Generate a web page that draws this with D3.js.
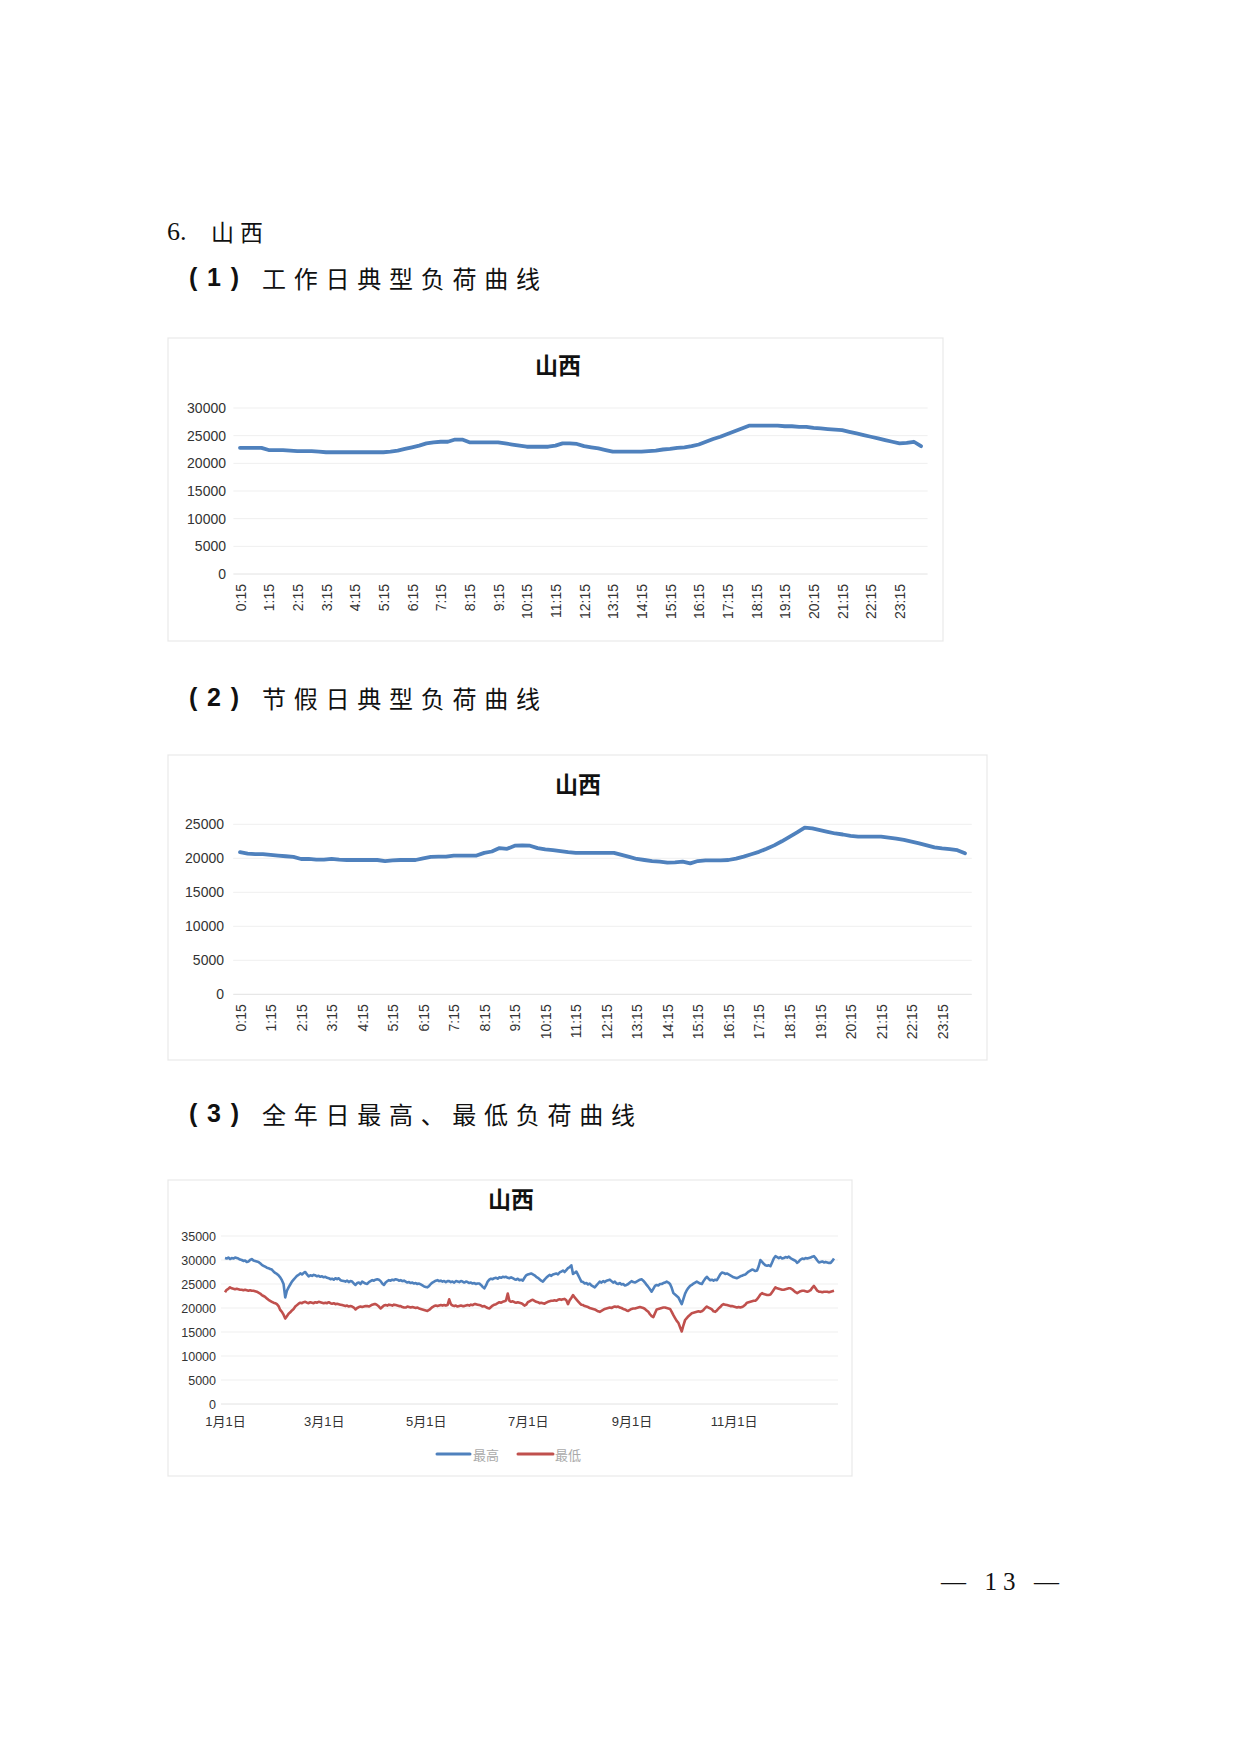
<!DOCTYPE html>
<html><head><meta charset="utf-8">
<script src="https://cdn.jsdelivr.net/npm/d3@7/dist/d3.min.js"></script>
<style>body{margin:0;background:#fff}</style>
</head><body><svg id="page" width="1240" height="1754"></svg>
<script>
// ---------- DATA ----------
// 96 quarter-hour categories: 0:15 ... 24:00
const timeLabels = [];
for (let h = 0; h < 24; h++) for (const m of [15, 30, 45, 60]) timeLabels.push(m === 60 ? (h + 1) + ":00" : h + ":" + m);
const shownTimeLabels = timeLabels.filter((d, i) => i % 4 === 0);

// (1) workday typical load (MW)
const workdayLoad = [
  22800,22800,22800,22800, 22400,22400,22400,22300, 22200,22200,22200,22100, 22000,22000,22000,22000,
  22000,22000,22000,22000, 22000,22100,22300,22600, 22900,23200,23600,23800, 23900,23900,24300,24300,
  23800,23800,23800,23800, 23800,23600,23400,23200, 23000,23000,23000,23000, 23200,23600,23600,23500,
  23100,22900,22700,22400, 22100,22100,22100,22100, 22100,22200,22300,22500, 22600,22800,22900,23100,
  23400,23900,24400,24800, 25300,25800,26300,26800, 26800,26800,26800,26800, 26700,26700,26600,26600,
  26400,26300,26200,26100, 26000,25700,25400,25100, 24800,24500,24200,23900, 23600,23700,23900,23100
];
// (2) holiday typical load (MW)
const holidayLoad = [
  20900,20700,20600,20600, 20500,20400,20300,20200, 19900,19900,19800,19800, 19900,19800,19750,19750,
  19750,19750,19750,19600, 19700,19750,19750,19750, 20000,20200,20250,20250, 20400,20400,20400,20400,
  20800,21000,21500,21400, 21850,21900,21850,21500, 21300,21200,21050,20900, 20800,20800,20800,20800,
  20800,20800,20500,20200, 19900,19750,19600,19500, 19350,19400,19500,19250, 19600,19700,19700,19700,
  19750,19950,20250,20600, 20950,21400,21900,22500, 23150,23800,24500,24400, 24150,23900,23650,23500,
  23300,23200,23200,23200, 23200,23050,22900,22700, 22450,22200,21900,21600, 21450,21350,21200,20750
];
const yTicks1 = [0, 5000, 10000, 15000, 20000, 25000, 30000];
const yTicks2 = [0, 5000, 10000, 15000, 20000, 25000];
const yTicks3 = [0, 5000, 10000, 15000, 20000, 25000, 30000, 35000];

// (3) daily max / min load over the year, one array per month
const dailyMax = [
 [30400,30300,30500,30200,30400,30300,30500,30400,30300,30100,30000,29800,29900,29600,29700,30000,30200,29900,29800,29700,29600,29300,29000,28800,28600,28400,28300,28100,28000,27600,27300],
 [27100,26800,26400,25800,25000,22200,23600,24300,24900,25500,25900,26300,26700,26900,27200,27000,27300,27500,27000,26600,26800,26700,26900,26800,26600,26700,26500,26600],
 [26400,26500,26300,26200,26000,26100,25900,26200,26000,26200,25800,25700,25600,25500,25700,25400,25600,25500,25100,24800,25200,25300,25000,25500,25300,25100,25000,25400,25600,25800,25700],
 [25900,26000,25900,25600,25100,24800,25300,25600,25800,25700,25900,25800,26000,25900,25700,25800,25600,25700,25500,25300,25400,25200,25300,25100,25200,25000,25100,24900,24700,24500],
 [24400,24300,24600,25000,25300,25500,25700,25800,25600,25700,25500,25600,25400,25600,25600,25400,25500,25300,25600,25500,25400,25600,25500,25300,25500,25400,25200,25300,25100,25200,25000],
 [25100,25100,24800,24400,24100,24700,25500,25900,26100,26000,26200,26300,26100,26400,26300,26500,26400,26500,26300,26200,26400,26200,26000,25900,26100,25800,25900,25700,26300,26800],
 [27000,27100,27200,27000,26800,26500,26300,26000,25700,25500,25900,26300,26600,26900,26700,27000,27100,27200,27000,27400,27600,27800,27500,27900,28300,28500,28900,27100,27300,27600,26900],
 [26200,25500,25400,25100,25200,24900,25100,24700,24500,24300,24700,25100,25500,25300,25600,25400,25700,25800,25900,25600,25300,25500,25100,25000,25200,24900,25000,24700,24800,25000,25300],
 [25600,25400,25300,25500,25700,25900,26000,25700,25300,24800,24400,23900,23400,24000,24600,24800,24700,25000,25000,25200,25300,25500,25300,25000,24200,23100,22800,22500,22200,21500],
 [20800,21900,23000,23700,24200,24600,24800,25100,25300,25500,25300,25100,25000,25600,26100,26500,26100,25800,25900,25700,25900,25800,26400,27000,27400,27300,27100,27200,27000,26800,26600],
 [26400,26300,26200,26400,26600,26700,26900,27000,27300,27600,27800,28000,27900,27700,27800,28700,30000,29600,29200,28900,28800,28900,28700,29500,30300,30800,30600,30400,30600,30300],
 [30400,30600,30500,30700,30400,30200,30000,29800,29400,29700,30100,30300,30200,30400,30300,30400,30500,30700,30800,30400,29900,29500,29600,29700,29500,29600,29500,29400,29400,29800,30300]
];
const dailyMin = [
 [23300,23800,24000,24300,24100,24000,23900,24000,23900,23800,23800,23700,23800,23700,23600,23700,23600,23600,23500,23400,23200,23000,22700,22500,22300,22000,21700,21500,21300,21100,21000],
 [20800,20400,19600,19200,18600,17800,18300,18800,19100,19500,19800,20300,20600,20900,21100,21000,21200,21300,21100,21000,21200,21100,21000,21200,21100,21300,21200,21100],
 [21000,21100,21000,21200,21000,20900,21000,20800,20900,20800,20700,20600,20500,20400,20500,20300,20400,20300,20100,19700,20000,20200,20300,20200,20300,20400,20400,20300,20500,20700,20800],
 [20800,20600,20300,19900,20200,20500,20600,20500,20700,20600,20500,20700,20600,20500,20400,20400,20200,20100,20100,20300,20200,20100,20200,20100,20000,20100,19900,19800,19700,19600],
 [19500,19400,19600,19900,20200,20400,20500,20400,20500,20600,20500,20600,20500,20600,21800,20800,20500,20400,20500,20300,20400,20500,20400,20400,20500,20600,20500,20700,20600,20800,20800],
 [20700,20600,20500,20300,20400,20200,20000,19900,20200,20500,20700,20800,21000,21200,21100,21300,21400,21600,23000,21500,21300,21400,21200,21100,21200,21100,21000,20800,20500,20700],
 [21200,21400,21600,21700,21500,21300,21200,21000,21100,21000,20900,21100,21300,21400,21500,21500,21600,21500,21700,21800,21700,21800,21900,21600,20800,21600,22100,22700,22200,21800,21400],
 [21000,20700,20600,20400,20300,20200,20000,19900,19800,19700,19500,19300,19200,19400,19600,19800,19900,20000,20100,20000,20200,20300,20200,20300,20100,20000,19800,19700,19500,19400,19600],
 [19800,19900,19900,20000,20100,20200,20100,20000,19800,19500,19200,18700,18300,18100,18900,19700,19800,19900,20000,20100,20100,20000,19900,19800,19200,18500,17900,17300,16900,16000],
 [15100,16400,17500,17900,18300,18600,18900,19000,19100,19200,19300,19200,19300,19600,20000,20300,20100,19900,19700,19300,19200,19500,19900,20200,20600,20800,20700,20600,20500,20400,20400],
 [20300,20200,20100,20200,20100,20200,20400,20700,21100,21200,21300,21400,21500,21500,21800,22300,22800,23100,22900,22800,22700,22700,22800,23300,23800,24300,24100,24000,23900,23800],
 [23800,23900,24000,24100,24100,23900,23600,23300,23100,23300,23500,23600,23600,23500,23400,23500,23700,24200,24600,24100,23600,23400,23400,23300,23400,23400,23400,23300,23400,23500,23600]
];
const yearTickMonths = [0, 2, 4, 6, 8, 10];   // 1月1日, 3月1日, ...
const legendNames = ["最高", "最低"];
const chartTitle = "山西";

// ---------- DRAW ----------
const BLUE = "#4F81BD", RED = "#C0504D";
const svg = d3.select("#page");
svg.append("rect").attr("width", 1240).attr("height", 1754).attr("fill", "#fff");

const CJK = "'Noto Sans CJK SC','Noto Sans CJK JP',sans-serif";
const SANS = "'Liberation Sans',Arial,'Noto Sans CJK SC',sans-serif";
const SERIF = "'Liberation Serif','Times New Roman',serif";

// headings
function heading(num, text, y, x2) {
  const g = svg.append("g");
  g.append("text").attr("x", 189).attr("y", y).attr("dominant-baseline", "central")
    .attr("font-family", SANS).attr("font-weight", 700).attr("font-size", 25).attr("fill", "#111")
    .attr("textLength", 50).attr("lengthAdjust", "spacing").text("( " + num + " )");
  g.append("text").attr("x", 262).attr("y", y).attr("dominant-baseline", "central")
    .attr("font-family", CJK).attr("font-size", 24).attr("fill", "#111")
    .attr("textLength", x2 - 262).attr("lengthAdjust", "spacing").text(text);
}
svg.append("text").attr("x", 167).attr("y", 231).attr("dominant-baseline", "central")
  .attr("font-family", SERIF).attr("font-size", 26).attr("fill", "#111").text("6.");
svg.append("text").attr("x", 211).attr("y", 231).attr("dominant-baseline", "central")
  .attr("font-family", CJK).attr("font-size", 23).attr("fill", "#111")
  .attr("textLength", 52).attr("lengthAdjust", "spacing").text("山西");
heading(1, "工作日典型负荷曲线", 277, 540);
heading(2, "节假日典型负荷曲线", 697, 540);
heading(3, "全年日最高、最低负荷曲线", 1113, 635);

// page number
svg.append("text").attr("x", 941).attr("y", 1581).attr("dominant-baseline", "central")
  .attr("font-family", SERIF).attr("font-size", 25).attr("fill", "#111")
  .attr("textLength", 118).attr("lengthAdjust", "spacing").text("— 13 —");

function frame(x0, y0, x1, y1, titleX, titleY) {
  svg.append("rect").attr("x", x0).attr("y", y0).attr("width", x1 - x0).attr("height", y1 - y0)
    .attr("fill", "#fff").attr("stroke", "#e9e9e9").attr("stroke-width", 1.2);
  svg.append("text").attr("x", titleX).attr("y", titleY).attr("text-anchor", "middle")
    .attr("dominant-baseline", "central").attr("font-family", CJK).attr("font-weight", 700)
    .attr("font-size", 23).attr("fill", "#111").text(chartTitle);
}

function yAxis(y, ticks, labelX, gx0, gx1, fs) {
  svg.append("g").selectAll("line").data(ticks).join("line")
    .attr("x1", gx0).attr("x2", gx1).attr("y1", d => y(d)).attr("y2", d => y(d))
    .attr("stroke", d => d === 0 ? "#e2e2e2" : "#efefef").attr("stroke-width", 1);
  const ax = svg.append("g").attr("transform", `translate(${labelX},0)`)
    .call(d3.axisLeft(y).tickValues(ticks).tickSize(0).tickPadding(0).tickFormat(d3.format("d")));
  ax.select(".domain").remove();
  ax.selectAll("text").attr("font-family", SANS).attr("font-size", fs).attr("fill", "#333");
}

function dayChart(data, yMax, ticks, box, rangeX, rangeY, labelX, titleX, titleY) {
  frame(box[0], box[1], box[2], box[3], titleX, titleY);
  const x = d3.scalePoint().domain(timeLabels).range(rangeX).padding(0.5);
  const y = d3.scaleLinear().domain([0, yMax]).range(rangeY);
  yAxis(y, ticks, labelX, rangeX[0] - 3, rangeX[1] + 3, 14);
  const ax = svg.append("g").attr("transform", `translate(0,${rangeY[0]})`)
    .call(d3.axisBottom(x).tickValues(shownTimeLabels).tickSize(0));
  ax.select(".domain").remove();
  ax.selectAll("text").attr("font-family", SANS).attr("font-size", 14).attr("fill", "#333")
    .attr("transform", "rotate(-90)").attr("text-anchor", "end")
    .attr("x", -10).attr("y", 0).attr("dy", "0.36em");
  svg.append("path").datum(data)
    .attr("d", d3.line().x((d, i) => x(timeLabels[i])).y(d => y(d)))
    .attr("fill", "none").attr("stroke", BLUE).attr("stroke-width", 3.8)
    .attr("stroke-linejoin", "round").attr("stroke-linecap", "round");
}

dayChart(workdayLoad, 30000, yTicks1, [168, 338, 943, 641], [236.4, 924.6], [574, 408], 226, 558, 364);
dayChart(holidayLoad, 25000, yTicks2, [168, 755, 987, 1060], [236.2, 968.8], [994.3, 824.3], 224, 578, 783);

// chart 3
(function () {
  frame(168, 1180, 852, 1476, 511, 1198);
  const maxSeries = [], minSeries = [];
  dailyMax.forEach((arr, m) => arr.forEach((v, i) => maxSeries.push({ date: new Date(2019, m, i + 1), v })));
  dailyMin.forEach((arr, m) => arr.forEach((v, i) => minSeries.push({ date: new Date(2019, m, i + 1), v })));
  const x = d3.scaleTime().domain([new Date(2019, 0, 1), new Date(2019, 11, 31)]).range([225, 834]);
  const y = d3.scaleLinear().domain([0, 35000]).range([1404, 1236]);
  yAxis(y, yTicks3, 216, 221, 838, 12.5);
  const tickDates = yearTickMonths.map(m => new Date(2019, m, 1));
  const ax = svg.append("g").attr("transform", "translate(0,1404)")
    .call(d3.axisBottom(x).tickValues(tickDates).tickSize(0).tickFormat(d => (d.getMonth() + 1) + "月1日"));
  ax.select(".domain").remove();
  ax.selectAll("text").attr("font-family", SANS).attr("font-size", 13).attr("fill", "#333")
    .attr("y", 17).attr("dy", "0.36em");
  const line = d3.line().x(d => x(d.date)).y(d => y(d.v));
  svg.append("path").datum(maxSeries).attr("d", line).attr("fill", "none")
    .attr("stroke", BLUE).attr("stroke-width", 2.6).attr("stroke-linejoin", "round");
  svg.append("path").datum(minSeries).attr("d", line).attr("fill", "none")
    .attr("stroke", RED).attr("stroke-width", 2.6).attr("stroke-linejoin", "round");
  // legend
  const lg = svg.append("g");
  [[437, 470, 473, BLUE], [518, 553, 555, RED]].forEach((p, i) => {
    lg.append("line").attr("x1", p[0]).attr("x2", p[1]).attr("y1", 1454).attr("y2", 1454)
      .attr("stroke", p[3]).attr("stroke-width", 3).attr("stroke-linecap", "round");
    lg.append("text").attr("x", p[2]).attr("y", 1454).attr("dominant-baseline", "central")
      .attr("font-family", CJK).attr("font-size", 13).attr("fill", "#aaa").text(legendNames[i]);
  });
})();
</script>
</body></html>
